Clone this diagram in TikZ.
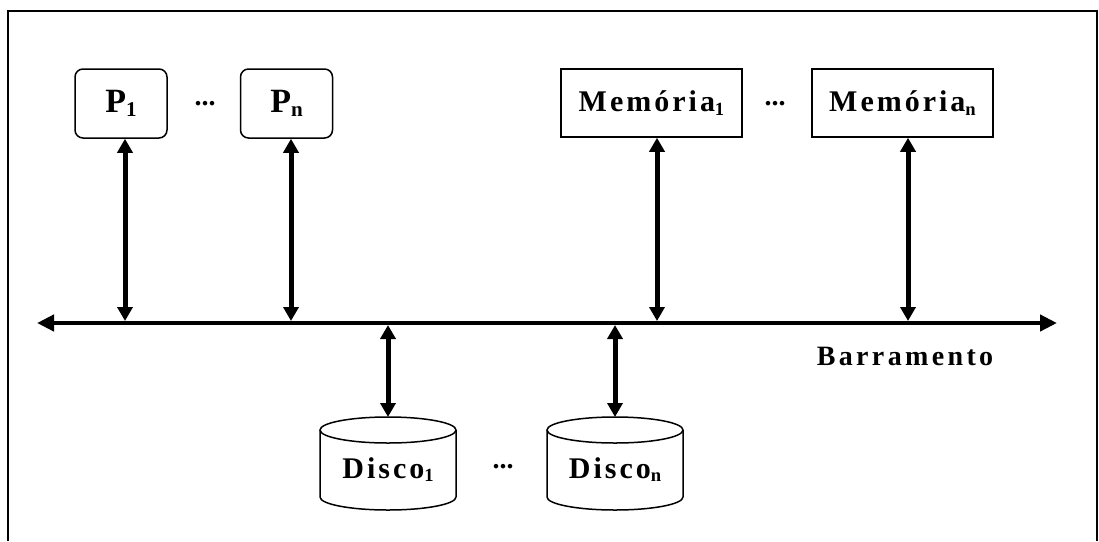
\documentclass[tikz,border=0pt]{standalone}
\usepackage{fontspec}
\setmainfont{Liberation Serif}
\newfontfamily\spacedA[LetterSpace=10]{Liberation Serif}
\newfontfamily\spacedB[LetterSpace=12]{Liberation Serif}
\usetikzlibrary{arrows.meta}
% lowered, reduced index after a label
\newcommand\lowidx[1]{\raisebox{-0.12em}{\scalebox{0.62}{#1}}}

\begin{document}
\begin{tikzpicture}[x=1pt,y=1pt,
  procbox/.style={draw, line width=1.5pt, rounded corners=8pt,
    minimum width=92pt, minimum height=69pt, inner sep=0pt,
    font=\bfseries\fontsize{34}{38}\selectfont},
  membox/.style={draw, line width=1.5pt,
    minimum width=181pt, minimum height=68pt, inner sep=0pt,
    font=\spacedA\bfseries\fontsize{30}{34}\selectfont},
  disklabel/.style={inner sep=0pt, anchor=base,
    font=\spacedA\bfseries\fontsize{30}{34}\selectfont},
  buslabel/.style={inner sep=0pt, anchor=base,
    font=\spacedB\bfseries\fontsize{28}{32}\selectfont},
  dots/.style={inner sep=0pt, font=\bfseries\fontsize{28}{32}\selectfont},
  link/.style={line width=5pt,
    {Triangle[length=14pt,width=15pt]}-{Triangle[length=14pt,width=15pt]}},
  busline/.style={line width=4.5pt,
    {Triangle[length=17pt,width=16pt]}-{Triangle[length=17pt,width=16pt]}},
  diskline/.style={line width=1.5pt},
  pics/disk/.style={code={
    \draw[diskline] (-68,0) -- (-68,-67)
      arc[start angle=180, end angle=360, x radius=68, y radius=13]
      -- (68,0);
    \draw[diskline] (0,0) ellipse[x radius=68, y radius=13];
  }}
]
\useasboundingbox (0,0) rectangle (1099,-541);

% outer frame
\draw[line width=2pt] (8,-541) -- (8,-11) -- (1097,-11) -- (1097,-541);

% processors and memories
\node[procbox] (p1) at (121,-103.5) {P\lowidx{1}};
\node[procbox] (pn) at (286.5,-103.5) {P\lowidx{n}};
\node[dots] (dp) at (205,-104) {...};
\node[membox] (m1) at (651.5,-103) {Memória\lowidx{1}};
\node[membox] (mn) at (902.5,-103) {Memória\lowidx{n}};
\node[dots] (dm) at (775,-104) {...};

% bus
\coordinate (busL) at (37,-323);
\coordinate (busR) at (1057,-323);
\draw[busline] (busL) -- (busR);
\node[buslabel] (bus) at (905,-365) {Barramento};

% taps on the bus
\coordinate (b1) at (125,-323);
\coordinate (b2) at (291,-323);
\coordinate (b3) at (657,-323);
\coordinate (b4) at (908,-323);
\coordinate (b5) at (388,-323);
\coordinate (b6) at (615,-323);

% disks
\pic at (388,-430) {disk};
\pic at (615,-430) {disk};
\coordinate (d1top) at (388,-417);
\coordinate (dntop) at (615,-417);
\node[disklabel] (d1) at (388,-478) {Disco\lowidx{1}};
\node[disklabel] (dn) at (615,-478) {Disco\lowidx{n}};
\node[dots] (dd) at (503,-467) {...};

% connections
\draw[link, shorten >=2pt] (b1 |- p1.south) -- (b1);
\draw[link, shorten >=2pt] (b2 |- pn.south) -- (b2);
\draw[link, shorten >=2pt] (b3 |- m1.south) -- (b3);
\draw[link, shorten >=2pt] (b4 |- mn.south) -- (b4);
\draw[link, shorten <=2pt] (b5) -- (d1top);
\draw[link, shorten <=2pt] (b6) -- (dntop);
\end{tikzpicture}
\end{document}
